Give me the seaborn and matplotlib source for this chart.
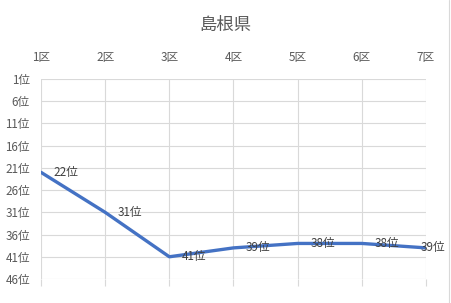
import matplotlib
matplotlib.use('Agg')
import matplotlib.pyplot as plt
import seaborn as sns
import pandas as pd

# data
districts = ['1区', '2区', '3区', '4区', '5区', '6区', '7区']
ranks = [22, 31, 41, 39, 38, 38, 39]
rank_ticks = [1, 6, 11, 16, 21, 26, 31, 36, 41, 46]
title = '島根県'

sns.set_theme(style='white')
plt.rcParams['font.family'] = ['Noto Sans CJK JP', 'DejaVu Sans']

df = pd.DataFrame({'district': districts, 'rank': ranks})

fig = plt.figure(figsize=(4.51, 3.03), dpi=100)
ax = fig.add_axes([41 / 451, 1 - 279 / 303, 385 / 451, 200 / 303])

sns.lineplot(data=df, x='district', y='rank', color='#4472C4', linewidth=2.4, ax=ax, sort=False)

ax.set_xlim(0, len(districts) - 1)
ax.set_ylim(46, 1)
ax.set_yticks(rank_ticks)
ax.set_yticklabels([f'{r}位' for r in rank_ticks])
ax.set_xlabel('')
ax.set_ylabel('')

ax.xaxis.tick_top()
ax.tick_params(axis='x', top=False, bottom=True, labeltop=True, labelbottom=False,
               length=5, width=0.8, color='#D9D9D9', pad=6, labelsize=8.4, labelcolor='#595959')
ax.tick_params(axis='y', left=False, length=0, pad=8, labelsize=8.4, labelcolor='#595959')
ax.grid(True, color='#D9D9D9', linewidth=0.8)
for s in ax.spines.values():
    s.set_visible(False)

# point labels
for i, r in enumerate(ranks):
    dx = 9 if i < len(ranks) - 1 else -4
    ax.annotate(f'{r}位', (i, r), xytext=(dx, 0), textcoords='offset points',
                va='center', ha='left', fontsize=8.4, color='#404040')

fig.text(0.5, 1 - 25 / 303, title, ha='center', va='center', fontsize=12.5, color='#595959')

# chart border on the right edge
fig.add_artist(plt.Line2D([449 / 451, 449 / 451], [0, 1], color='#D9D9D9', linewidth=0.8))

fig.savefig('out.png', dpi=100)
